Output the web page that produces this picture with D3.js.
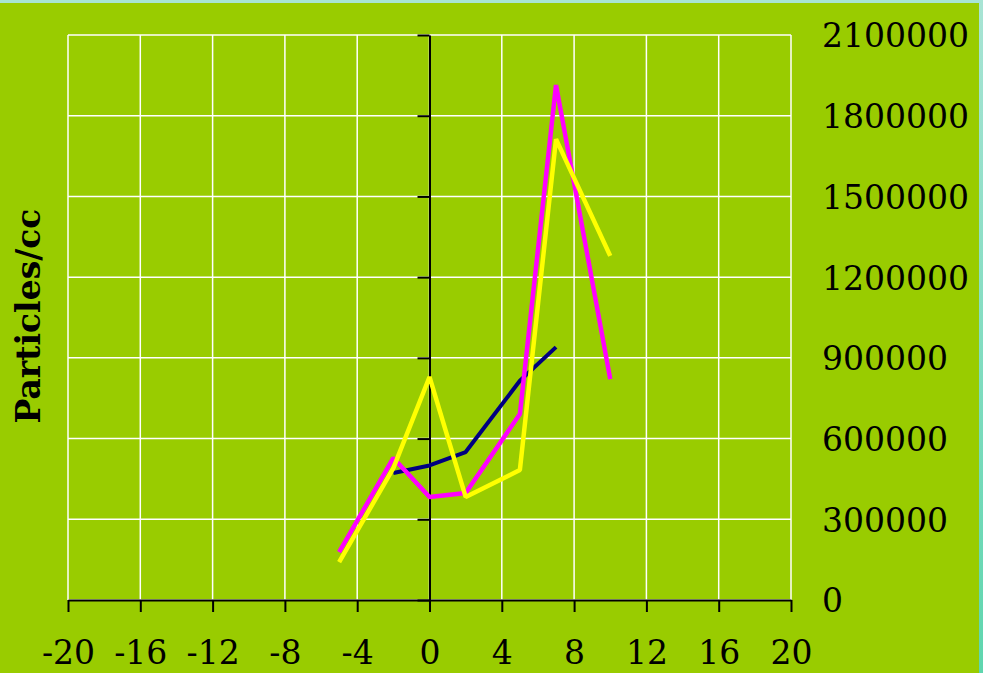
<!DOCTYPE html>
<html>
<head>
<meta charset="utf-8">
<script src="https://cdn.jsdelivr.net/npm/d3@7"></script>
<style>
  body { margin: 0; background: #99cc00; }
  svg { display: block; }
</style>
</head>
<body>
<div id="chart"></div>
<script>
// tick values
const xTicks = [-20, -16, -12, -8, -4, 0, 4, 8, 12, 16, 20];
const yTicks = [0, 300000, 600000, 900000, 1200000, 1500000, 1800000, 2100000];

// series (x = hours, y = particles/cc)
const navyX = [-2, 0, 2, 5, 7];
const navyY = [472000, 500000, 550000, 815000, 940000];
const magentaX = [-5, -2, 0, 2, 5, 7, 10];
const magentaY = [178000, 528000, 383000, 398000, 691000, 1914000, 821000];
const yellowX = [-5, -2, 0, 2, 5, 7, 10];
const yellowY = [141000, 490000, 829000, 383000, 483000, 1713000, 1279000];

const width = 983;
const height = 673;

const svg = d3.select("#chart")
              .append("svg")
              .attr("width", width)
              .attr("height", height)

// frame strips
const grad = svg.append("defs").append("linearGradient")
                .attr("id", "edge")
                .attr("x1", 0).attr("y1", 0).attr("x2", 0).attr("y2", 1)
grad.append("stop").attr("offset", "0%").attr("stop-color", "#a8e4d4")
grad.append("stop").attr("offset", "100%").attr("stop-color", "#5ed6ae")

svg.append("rect").attr("width", width).attr("height", height).attr("fill", "#99cc00")
svg.append("rect").attr("x", 0).attr("y", 0).attr("width", width).attr("height", 3).attr("fill", "#a8e4d4")
svg.append("rect").attr("x", 979).attr("y", 0).attr("width", 4).attr("height", height).attr("fill", "url(#edge)")

const x = d3.scaleLinear().domain([-20, 20]).range([68, 791]);
const y = d3.scaleLinear().domain([0, 2100000]).range([600, 35]);

// grid
const grid = svg.append("g")
grid.selectAll(".vgrid")
    .data(xTicks)
    .enter()
    .append("line")
    .attr("x1", d => x(d)).attr("x2", d => x(d))
    .attr("y1", y(2100000)).attr("y2", y(0))
    .attr("stroke", "white")
    .attr("stroke-width", 1.5)
grid.selectAll(".hgrid")
    .data(yTicks)
    .enter()
    .append("line")
    .attr("x1", x(-20)).attr("x2", x(20))
    .attr("y1", d => y(d)).attr("y2", d => y(d))
    .attr("stroke", "white")
    .attr("stroke-width", 1.5)

// y axis through x = 0, ticks only
const yAxis = svg.append("g")
                 .attr("transform", `translate(${x(0)},0)`)
                 .call(d3.axisLeft(y).tickValues(yTicks).tickSize(12).tickSizeOuter(0).tickFormat(""))
yAxis.selectAll("path, line").attr("stroke", "black").attr("stroke-width", 2)

// y labels on the right
const yLabels = svg.append("g")
                   .attr("transform", `translate(${x(20)},0)`)
                   .call(d3.axisRight(y).tickValues(yTicks).tickSize(0).tickPadding(31).tickFormat(d => String(d)))
yLabels.select(".domain").remove()
yLabels.selectAll("text")
       .attr("font-family", "DejaVu Serif")
       .attr("font-size", 33)
       .attr("fill", "black")
       .attr("dy", "0.36em")

// x axis
const xAxis = svg.append("g")
                 .attr("transform", `translate(0,${y(0)})`)
                 .call(d3.axisBottom(x).tickValues(xTicks).tickSize(12).tickSizeOuter(0).tickPadding(29).tickFormat(d => String(d)))
xAxis.selectAll("path, line").attr("stroke", "black").attr("stroke-width", 2)
xAxis.selectAll("text")
     .attr("font-family", "DejaVu Serif")
     .attr("font-size", 33)
     .attr("fill", "black")

// y title
svg.append("text")
   .attr("transform", "translate(40,316) rotate(-90)")
   .attr("text-anchor", "middle")
   .attr("font-family", "DejaVu Serif")
   .attr("font-weight", "bold")
   .attr("font-size", 33)
   .text("Particles/cc")

// series
const line = d3.line().x(d => x(d[0])).y(d => y(d[1]));
const series = [
  { xs: navyX, ys: navyY, color: "#000080", w: 4 },
  { xs: magentaX, ys: magentaY, color: "#ff00ff", w: 4.5 },
  { xs: yellowX, ys: yellowY, color: "#ffff00", w: 4.5 }
];
svg.selectAll(".series")
   .data(series)
   .enter()
   .append("path")
   .attr("class", "series")
   .attr("d", s => line(d3.zip(s.xs, s.ys)))
   .attr("fill", "none")
   .attr("stroke", s => s.color)
   .attr("stroke-width", s => s.w)
   .attr("stroke-linejoin", "bevel")
</script>
</body>
</html>
